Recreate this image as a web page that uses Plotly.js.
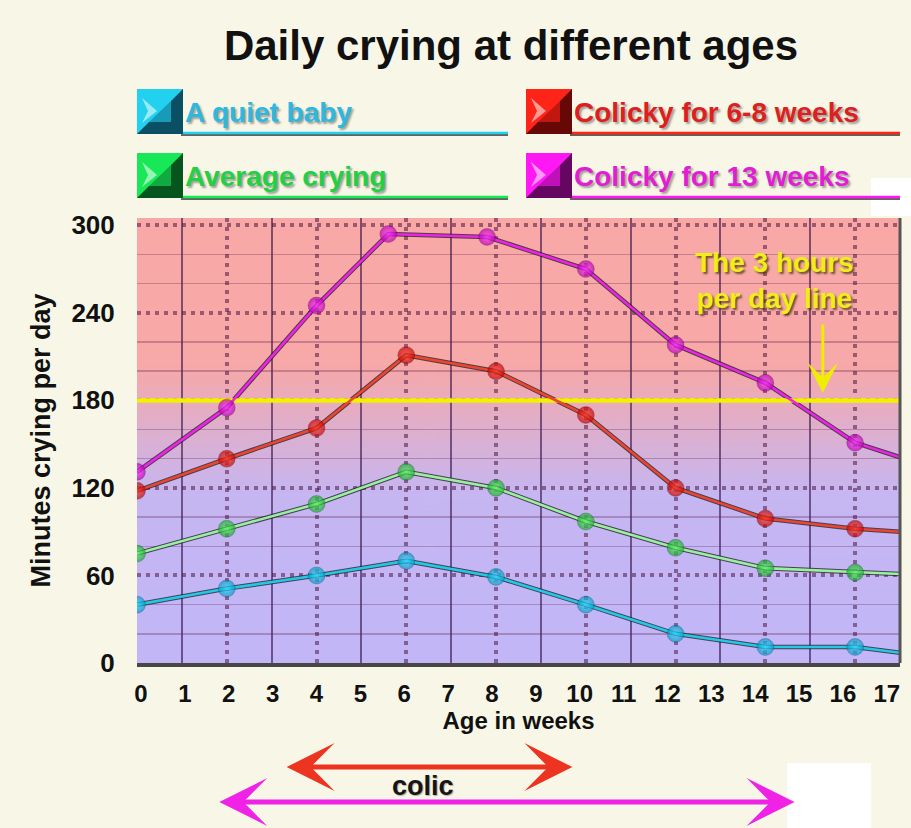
<!DOCTYPE html>
<html><head><meta charset="utf-8">
<script src="https://cdn.plot.ly/plotly-3.0.1.min.js"></script>
<style>html,body{margin:0;padding:0;background:#f7f6e7;} #chart{width:911px;height:828px;}</style>
</head><body><div id="chart"></div>
<script>
// ---- data ----
const weeks = [0, 2, 4, 6, 8, 10, 12, 14, 16, 17];
const weeksColicky13 = [0, 2, 4, 5.6, 7.8, 10, 12, 14, 16, 17];
const quietBaby = [40, 51, 60, 70, 59, 40, 20, 11, 11, 7];
const averageCrying = [75, 92, 109, 131, 120, 97, 79, 65, 62, 61];
const colicky6to8 = [118, 140, 161, 211, 200, 170, 120, 99, 92, 90];
const colicky13 = [131, 175, 245, 294, 292, 270, 218, 192, 151, 141];
const seriesNames = ['A quiet baby', 'Colicky for 6-8 weeks', 'Average crying', 'Colicky for 13 weeks'];
const threeHourLine = 180;
const colicShort = [3.3, 9.7];   // weeks spanned by red colic arrow
const colicLong = [1.8, 14.65];  // weeks spanned by magenta arrow
const weekRange = [0, 17];
const weekLabelRange = [-0.09, 17.3]; // tick labels in the original sit on a slightly narrower spacing
const minuteRange = [0, 305];

// ---- geometry helpers (plot area in pixels) ----
const L = 137, R = 900, T = 218, B = 663;
const PX = p => (p - L) / (R - L);
const PY = p => (B - p) / (B - T);
const FONT = 'Liberation Sans, Arial, Helvetica, sans-serif';

// background gradient image
const cv = document.createElement('canvas');
cv.width = 4; cv.height = 305;
const ctx = cv.getContext('2d');
const g = ctx.createLinearGradient(0, 0, 0, 305);
g.addColorStop(0, '#f9a8a6');
g.addColorStop(0.33, '#f7a8a8');
g.addColorStop(0.62, '#c6b6f2');
g.addColorStop(1, '#c2b6f8');
ctx.fillStyle = g; ctx.fillRect(0, 0, 4, 305);
const bgURL = cv.toDataURL();

const styles = [
  {y: quietBaby, x: weeks, line: '#22c8ea', mk: '#0498c4', hl: '#3cdcff', name: seriesNames[0]},
  {y: averageCrying, x: weeks, line: '#9af0a0', mk: '#18a830', hl: '#5cf060', name: seriesNames[2]},
  {y: colicky6to8, x: weeks, line: '#ee4430', mk: '#c00404', hl: '#ff4030', name: seriesNames[1]},
  {y: colicky13, x: weeksColicky13, line: '#ee22ea', mk: '#b800b0', hl: '#ff40ff', name: seriesNames[3]}
];

const traces = [];
styles.forEach(s => {
  traces.push({x: s.x, y: s.y, xaxis: 'x', yaxis: 'y', mode: 'lines', showlegend: false, hoverinfo: 'skip',
    line: {color: 'rgba(25,25,25,0.75)', width: 4.6}});
});
// 3 hours per day reference line
traces.push({x: weekRange, y: [threeHourLine, threeHourLine], xaxis: 'x', yaxis: 'y', mode: 'lines', showlegend: false,
  hoverinfo: 'skip', line: {color: '#f2f200', width: 4.5}});
styles.forEach(s => {
  traces.push({x: s.x, y: s.y, xaxis: 'x', yaxis: 'y', name: s.name, mode: 'lines+markers', showlegend: false,
    line: {color: s.line, width: 2.6},
    marker: {size: s.x.map(v => v === weekRange[1] ? 0 : 17), color: s.mk,
      gradient: {type: 'radial', color: s.hl}, line: {width: 0.5, color: 'rgba(0,0,0,0.5)'}}});
});
// invisible carrier so the tick-label axis is drawn
traces.push({x: weekRange, y: [threeHourLine, threeHourLine], xaxis: 'x2', yaxis: 'y', mode: 'lines', showlegend: false,
  hoverinfo: 'skip', opacity: 0, line: {width: 0}});

// ---- legend drawn as shapes + annotations ----
const shapes = [];
const annotations = [];
// white artifact boxes from the original picture
shapes.push({type: 'rect', xref: 'paper', yref: 'paper', x0: PX(871), x1: PX(915), y0: PY(216), y1: PY(178), fillcolor: '#ffffff', line: {width: 0}});
shapes.push({type: 'rect', xref: 'paper', yref: 'paper', x0: PX(787), x1: PX(871), y0: PY(830), y1: PY(763), fillcolor: '#ffffff', line: {width: 0}});

function pth(pts) {
  return 'M' + pts.map(p => PX(p[0]) + ',' + PY(p[1])).join('L') + 'Z';
}
const legendItems = [
  {name: seriesNames[0], x0: 137, y0: 89, ulx1: 508, col: '#22d0f0', dark: '#06384a', txt: '#2cb8e0'},
  {name: seriesNames[1], x0: 526, y0: 89, ulx1: 900, col: '#ff2418', dark: '#4a0404', txt: '#dc2020'},
  {name: seriesNames[2], x0: 137, y0: 153, ulx1: 508, col: '#18e858', dark: '#043a14', txt: '#22d044'},
  {name: seriesNames[3], x0: 526, y0: 153, ulx1: 900, col: '#ff18f4', dark: '#4a0446', txt: '#e01ed4'}
];
legendItems.forEach(it => {
  const x0 = it.x0, y0 = it.y0, x1 = x0 + 46, y1 = y0 + 45;
  const uy = y1 - 1;
  shapes.push({type: 'line', xref: 'paper', yref: 'paper', x0: PX(x1 - 2), x1: PX(it.ulx1), y0: PY(uy + 2), y1: PY(uy + 2), line: {color: 'rgba(60,60,60,0.8)', width: 2}});
  shapes.push({type: 'line', xref: 'paper', yref: 'paper', x0: PX(x1 - 2), x1: PX(it.ulx1), y0: PY(uy), y1: PY(uy), line: {color: it.col, width: 2.5}});
  shapes.push({type: 'rect', xref: 'paper', yref: 'paper', x0: PX(x0), x1: PX(x1), y0: PY(y1), y1: PY(y0), fillcolor: it.col, line: {width: 0}});
  shapes.push({type: 'path', xref: 'paper', yref: 'paper', path: pth([[x1, y0], [x1, y1], [x0, y1], [x0 + 12, y1 - 12], [x1 - 12, y1 - 12], [x1 - 12, y0 + 12]]), fillcolor: it.dark, opacity: 0.85, line: {width: 0}});
  shapes.push({type: 'path', xref: 'paper', yref: 'paper', path: pth([[x0 + 12, y1 - 12], [x1 - 12, y1 - 12], [x1 - 12, y0 + 12]]), fillcolor: it.dark, opacity: 0.35, line: {width: 0}});
  shapes.push({type: 'path', xref: 'paper', yref: 'paper', path: pth([[x0 + 5, y0 + 9], [x0 + 20, y0 + 22], [x0 + 5, y0 + 34], [x0 + 11, y0 + 22]]), fillcolor: '#ffffff', opacity: 0.55, line: {width: 0}});
  annotations.push({xref: 'paper', yref: 'paper', x: PX(x1), y: PY(y0 + 23), xanchor: 'left', yanchor: 'middle', showarrow: false,
    text: it.name, font: {family: FONT, size: 28, weight: 'bold', color: it.txt, shadow: '2px 2px 2px rgba(0,0,0,0.35)'}});
});

// right border of plot
shapes.push({type: 'line', xref: 'paper', yref: 'paper', x0: 1, x1: 1, y0: 0, y1: 1, line: {color: '#555555', width: 3}});

annotations.push({xref: 'x', yref: 'y', x: 14.2, y: 262, showarrow: false, text: 'The 3 hours<br>per day line',
  font: {family: FONT, size: 28, weight: 'bold', color: '#eeee18', shadow: '2px 2px 2px rgba(70,50,0,0.75)'}});
annotations.push({xref: 'x', yref: 'y', x: 15.28, y: 185, ax: 15.28, ay: 233, axref: 'x', ayref: 'y', text: '', showarrow: true,
  arrowhead: 3, arrowwidth: 3, arrowsize: 1.7, arrowcolor: '#eeee00', standoff: 0, startstandoff: 0});
annotations.push({xref: 'x', yref: 'paper', x: colicShort[1], y: PY(767), ax: colicShort[0], ay: 0, axref: 'x', ayref: 'pixel', text: '',
  showarrow: true, arrowside: 'end+start', arrowhead: 3, startarrowhead: 3, arrowwidth: 5, arrowsize: 1.6, startarrowsize: 1.6,
  arrowcolor: '#ec3420', standoff: 0, startstandoff: 0});
annotations.push({xref: 'x', yref: 'paper', x: colicLong[1], y: PY(802), ax: colicLong[0], ay: 0, axref: 'x', ayref: 'pixel', text: '',
  showarrow: true, arrowside: 'end+start', arrowhead: 3, startarrowhead: 3, arrowwidth: 5, arrowsize: 1.6, startarrowsize: 1.6,
  arrowcolor: '#f022e6', standoff: 0, startstandoff: 0});
annotations.push({xref: 'x', yref: 'paper', x: 6.37, y: PY(786), xanchor: 'center', yanchor: 'middle', showarrow: false, text: 'colic',
  font: {family: FONT, size: 27, weight: 'bold', color: '#151515', shadow: '1px 1px 1px rgba(0,0,0,0.3)'}});

const gridDot = 'rgba(70,15,60,0.52)';
const layout = {
  width: 911, height: 828,
  margin: {l: L, r: 911 - R, t: T, b: 828 - B, pad: 0},
  paper_bgcolor: '#f7f6e7', plot_bgcolor: 'rgba(0,0,0,0)',
  showlegend: false,
  title: {text: 'Daily crying at different ages', font: {family: FONT, size: 42, weight: 'bold', color: '#111'},
    x: 511 / 911, xref: 'container', xanchor: 'center', y: 1 - 45 / 828, yref: 'container', yanchor: 'middle'},
  images: [{source: bgURL, xref: 'paper', yref: 'paper', x: 0, y: 1, sizex: 1, sizey: 1, sizing: 'stretch', layer: 'below', xanchor: 'left', yanchor: 'top'}],
  xaxis: {range: weekRange, tick0: 0, dtick: 2, showticklabels: false, ticks: '', zeroline: false,
    showgrid: true, gridcolor: gridDot, gridwidth: 4, griddash: '4px,5px',
    minor: {tick0: 0, dtick: 1, showgrid: true, griddash: 'solid', gridcolor: 'rgba(50,15,70,0.6)', gridwidth: 2},
    showline: true, linecolor: '#474747', linewidth: 4, fixedrange: true},
  xaxis2: {overlaying: 'x', anchor: 'y', side: 'bottom', range: weekLabelRange, tick0: 0, dtick: 1,
    showgrid: false, zeroline: false, showline: false, ticks: 'outside', ticklen: 9, tickcolor: 'rgba(0,0,0,0)',
    tickfont: {family: FONT, size: 24, weight: 'bold', color: '#111'},
    title: {text: 'Age in weeks', font: {family: FONT, size: 24, weight: 'bold', color: '#111'}, standoff: 3}, fixedrange: true},
  yaxis: {range: minuteRange, tick0: 0, dtick: 60, zeroline: false, showline: false,
    showgrid: true, gridcolor: gridDot, gridwidth: 4, griddash: '4px,5px',
    minor: {tick0: 0, dtick: 20, showgrid: true, griddash: 'solid', gridcolor: 'rgba(90,30,70,0.3)', gridwidth: 1.5},
    ticks: 'outside', ticklen: 16, tickcolor: 'rgba(0,0,0,0)',
    tickfont: {family: FONT, size: 26, weight: 'bold', color: '#111'},
    title: {text: 'Minutes crying per day', font: {family: FONT, size: 27, weight: 'bold', color: '#111'}, standoff: 12}, fixedrange: true},
  shapes: shapes,
  annotations: annotations
};
Plotly.newPlot('chart', traces, layout, {displayModeBar: false, staticPlot: true});
</script></body></html>
